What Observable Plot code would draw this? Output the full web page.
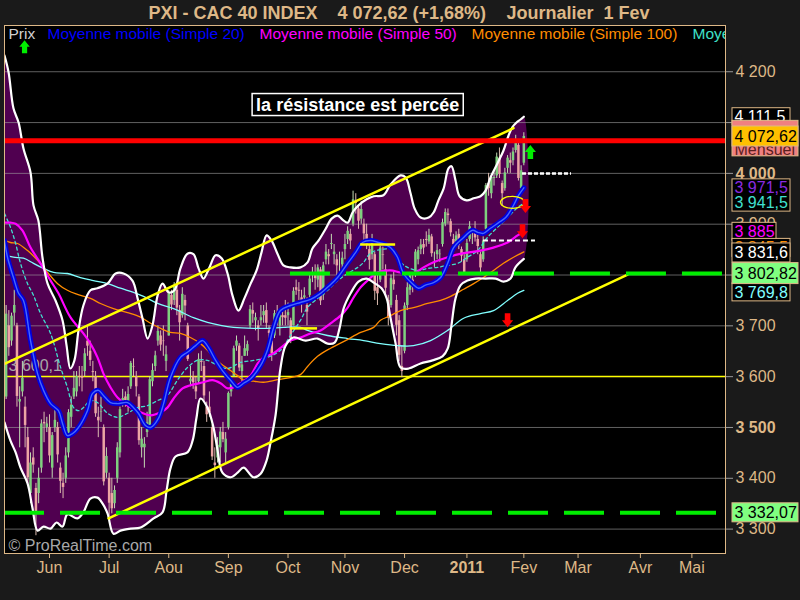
<!DOCTYPE html>
<html><head><meta charset="utf-8">
<script src="https://cdn.jsdelivr.net/npm/d3@7"></script>
<script src="https://cdn.jsdelivr.net/npm/@observablehq/plot@0.6"></script>
<style>
html,body{margin:0;padding:0;background:#1a1a1a;}
#chart svg{display:block;}
g[aria-label="y-axis tick"]{stroke:#9a9a9a;}
</style></head><body><div id="chart"></div>
<script>
// ---------- DATA (trading-day index: 0 = 1 Jun 2010, 175 = 1 Feb 2011) ----------
const firstDay = -16;
const opens = [3560,3700,3670,3725,3700,3550,3570,3540,3480,3370,3440,3380,3370,3420,3510,3500,
3500,3420,3500,3500,3420,3390,3400,3450,3520,3560,3570,3600,3600,3610,3670,3650,3610,3600,3520,3530,3500,3410,
3400,3370,3350,3400,3450,3550,3560,3550,3580,3620,3600,3560,3460,3460,3490,3500,3590,3620,3670,3680,3670,3630,
3680,3760,3750,3770,3730,3720,3750,3700,3590,3600,3580,3590,3630,3620,3540,3540,3500,3430,3440,3460,3490,3450,
3500,3570,3600,3660,3660,3610,3640,3650,3700,3730,3710,3700,3710,3720,3730,3690,3670,3680,3725,3700,3720,3720,
3720,3710,3700,3775,3770,3755,3755,3740,3760,3800,3800,3790,3810,3760,3830,3840,3860,3840,3830,3820,3820,
3850,3870,3880,3900,3945,3930,3910,3900,3880,3850,3840,3840,3775,3790,3840,3810,3750,3740,3790,3750,3710,3620,
3650,3740,3770,3790,3800,3830,3850,3860,3870,3865,3875,3830,3840,3840,3860,3900,3920,3905,3870,3865,3880,3850,3830,
3830,3870,3880,3890,3870,3840,3830,3890,3980,3960,3990,3995,4030,3980,3970,4010,4025,4025,4045,4055,3970,
4020];
const highs = [3740,3730,3725,3770,3705,3580,3630,3560,3500,3450,3460,3390,3420,3515,3530,3520,
3525,3490,3540,3510,3430,3410,3460,3535,3560,3610,3610,3620,3620,3655,3700,3670,3630,3610,3540,3560,3505,3460,
3410,3400,3385,3470,3540,3575,3570,3580,3630,3635,3610,3565,3500,3480,3530,3600,3625,3650,3700,3690,3700,3660,
3770,3770,3785,3780,3740,3775,3760,3705,3620,3610,3600,3645,3650,3630,3550,3570,3505,3460,3480,3500,3510,3490,
3570,3595,3660,3680,3665,3640,3680,3670,3740,3745,3725,3710,3740,3740,3745,3700,3680,3730,3740,3730,3735,3750,
3745,3715,3775,3790,3785,3770,3775,3755,3800,3815,3820,3820,3815,3825,3860,3850,3880,3860,3840,3845,3845,
3880,3895,3890,3965,3960,3935,3945,3910,3900,3860,3880,3845,3800,3860,3855,3820,3760,3800,3805,3760,3720,3660,
3745,3785,3805,3800,3850,3855,3870,3870,3885,3890,3880,3845,3860,3850,3910,3930,3930,3910,3880,3885,3890,3855,3840,
3870,3905,3890,3905,3880,3845,3875,3980,4000,3995,4005,4040,4050,3985,4010,4035,4040,4050,4075,4065,4015,
4080];
const lows = [3555,3640,3660,3700,3540,3460,3560,3460,3390,3350,3410,3287,3350,3410,3470,3490,
3430,3400,3490,3430,3370,3360,3390,3440,3500,3555,3560,3580,3570,3600,3640,3620,3590,3520,3480,3510,3385,3400,
3325,3330,3340,3390,3440,3540,3540,3530,3575,3600,3560,3465,3440,3420,3480,3495,3580,3610,3660,3650,3640,3610,
3680,3730,3740,3720,3670,3715,3710,3630,3580,3575,3555,3585,3610,3550,3510,3520,3435,3400,3430,3430,3470,3430,
3495,3560,3600,3650,3610,3590,3640,3640,3695,3705,3690,3670,3700,3705,3695,3670,3630,3675,3700,3680,3700,3700,
3700,3665,3700,3760,3750,3725,3745,3700,3755,3785,3770,3775,3740,3750,3820,3820,3850,3820,3795,3805,3810,
3830,3860,3850,3895,3920,3890,3900,3860,3850,3810,3830,3750,3740,3785,3810,3760,3700,3735,3770,3680,3630,3598,
3645,3730,3760,3765,3795,3820,3840,3840,3855,3860,3835,3815,3830,3825,3855,3895,3900,3875,3850,3855,3850,3825,3800,
3825,3865,3860,3865,3840,3800,3825,3885,3955,3950,3975,3990,3990,3935,3965,4000,4000,4015,4040,3985,3960,
4015];
const closes = [3723,3657,3719,3740,3561,3555,3597,3504,3401,3430,3426,3331,3400,3507,3507,3507,
3444,3484,3514,3446,3394,3382,3444,3529,3544,3577,3600,3599,3597,3645,3660,3632,3608,3527,3513,3531,3393,3443,
3351,3340,3376,3460,3535,3557,3553,3565,3626,3619,3580,3474,3477,3467,3509,3594,3612,3641,3689,3662,3669,3643,
3764,3741,3778,3735,3706,3762,3739,3634,3595,3588,3570,3634,3628,3562,3525,3529,3442,3425,3465,3491,3476,3477,
3567,3590,3655,3670,3617,3623,3655,3663,3732,3723,3716,3694,3716,3728,3705,3685,3645,3724,3714,3722,3716,3715,
3726,3675,3768,3770,3768,3742,3759,3727,3792,3802,3793,3814,3749,3818,3845,3836,3862,3845,3818,3820,3833,
3860,3886,3867,3948,3941,3906,3929,3881,3861,3829,3864,3768,3763,3853,3839,3774,3715,3793,3781,3701,3642,3610,
3739,3775,3800,3776,3845,3848,3859,3853,3868,3878,3842,3830,3848,3841,3903,3923,3917,3883,3860,3877,3858,3837,3805,
3862,3895,3880,3873,3856,3814,3867,3976,3970,3992,3992,4032,3998,3960,4001,4030,4020,4042,4059,3990,4005,
4072.62];

// Bollinger bands [day, value]
const bbUpper = [[-16.6,4232],[-15.1,4199],[-13.3,4128],[-11.4,4100],[-9.6,4049],[-7.0,4002],[-5.9,3937],[-4.1,3907],[-2.6,3835],[-0.7,3783],
[2.2,3750],[4.8,3711],[6.3,3661],[7.7,3616],[9.2,3632],[10.7,3691],[12.5,3740],[15.1,3770],[17.7,3774],[21.4,3783],
[24.4,3803],[27.3,3803],[30.6,3789],[32.5,3754],[34.3,3715],[36.2,3675],[38.0,3701],[39.9,3760],[41.7,3783],[43.9,3766],
[46.1,3770],[48.3,3813],[50.9,3842],[53.1,3841],[55.0,3813],[56.8,3793],[59.0,3815],[61.3,3839],[63.5,3833],[65.7,3803],
[67.5,3760],[69.7,3730],[71.9,3754],[74.2,3783],[76.4,3809],[78.2,3844],[80.1,3878],[81.9,3868],[84.1,3842],[86.3,3819],
[88.9,3815],[92.6,3815],[95.2,3825],[97.0,3852],[99.3,3868],[101.8,3890],[104.1,3911],[106.3,3917],[108.1,3909],[110.0,3903],
[111.8,3923],[114.0,3937],[117.0,3949],[119.6,3955],[123.2,3957],[125.8,3978],[129.5,3996],[131.4,3992],[133.2,3961],[134.7,3931],
[136.9,3913],[139.9,3913],[141.7,3923],[143.5,3947],[145.4,3970],[147.2,4010],[148.3,4014],[149.8,3986],[151.3,3955],[153.9,3947],
[156.5,3951],[159.0,3955],[160.9,3966],[162.7,3992],[165.3,4020],[167.5,4045],[169.4,4075],[170.8,4091],[172.3,4100],[173.8,4106],[175,4111.5]];
const bbLower = [[-16.6,3510],[-14.4,3474],[-12.5,3451],[-10.7,3421],[-8.1,3390],[-6.3,3342],[-4.4,3297],[-2.2,3305],[0.4,3301],[2.6,3313],
[4.8,3305],[6.6,3329],[10.3,3321],[12.5,3333],[15.1,3360],[17.7,3362],[19.6,3350],[21.4,3331],[23.6,3291],[26.2,3297],
[29.9,3301],[33.6,3303],[38.4,3321],[41.7,3333],[43.2,3376],[44.6,3419],[46.5,3443],[50.9,3451],[52.8,3474],[54.2,3518],
[55.7,3557],[58.3,3539],[60.5,3500],[62.0,3455],[63.8,3411],[66.8,3402],[69.4,3411],[71.6,3421],[75.3,3402],[77.9,3409],
[80.1,3435],[81.5,3469],[83.4,3524],[85.2,3616],[87.1,3661],[90.0,3677],[94.5,3671],[98.9,3675],[102.6,3665],[105.2,3667],
[107.0,3695],[108.5,3734],[111.1,3764],[114.0,3787],[117.0,3793],[119.6,3785],[122.5,3774],[124.4,3754],[125.8,3716],[127.7,3665],
[129.5,3618],[132.5,3616],[136.9,3626],[141.3,3632],[145.0,3640],[146.9,3655],[148.3,3701],[149.8,3754],[151.7,3780],[154.2,3789],
[157.2,3793],[160.9,3793],[164.6,3793],[167.5,3787],[170.1,3793],[171.9,3815],[175,3831.6]];

// Moving averages [day, value]
const ma20 = [[-16.6,3868],[-15.5,3835],[-13.3,3795],[-11.4,3764],[-9.6,3750],[-7.0,3671],[-4.4,3606],[-2.2,3573],[0.4,3547],[3.3,3533],
[4.8,3508],[6.6,3484],[8.5,3488],[10.7,3500],[14.0,3533],[15.9,3567],[18.1,3573],[19.9,3563],[22.5,3549],[25.1,3547],
[28.8,3549],[31.0,3539],[32.8,3528],[35.4,3504],[37.3,3500],[40.2,3518],[42.1,3547],[44.6,3598],[48.3,3638],[50.9,3648],
[53.9,3661],[56.5,3671],[58.7,3657],[61.3,3632],[63.8,3612],[66.8,3593],[69.4,3579],[71.6,3587],[74.2,3596],[77.9,3622],
[80.4,3652],[82.7,3697],[85.2,3730],[88.9,3740],[92.6,3746],[96.3,3752],[100.0,3764],[102.6,3776],[106.3,3795],[110.0,3823],
[112.9,3844],[115.5,3864],[118.4,3868],[121.4,3864],[124.0,3860],[125.8,3854],[128.4,3835],[130.6,3803],[133.9,3783],[136.2,3774],
[138.7,3780],[141.7,3785],[144.3,3795],[146.9,3823],[149.1,3854],[152.4,3872],[156.1,3888],[158.0,3884],[160.1,3882],[162.7,3892],
[165.7,3903],[168.3,3913],[170.8,3933],[173.1,3957],[175,3971.5]];
const ma50 = [[-16.6,3903],[-14.4,3903],[-12.5,3901],[-10.0,3888],[-7.0,3854],[-3.3,3823],[0.4,3789],[3.3,3764],[7.7,3717],[12.5,3685],
[15.1,3665],[17.7,3638],[19.9,3606],[22.5,3579],[25.1,3559],[28.8,3543],[33.6,3530],[37.3,3524],[41.0,3530],[43.5,3539],
[45.8,3557],[49.1,3577],[52.0,3583],[56.8,3589],[60.1,3593],[63.1,3587],[65.7,3577],[67.9,3579],[70.5,3587],[74.2,3602],
[76.8,3626],[79.0,3638],[82.7,3646],[86.3,3661],[88.9,3671],[92.6,3677],[96.3,3685],[100.0,3691],[103.7,3705],[107.4,3720],
[110.0,3736],[112.2,3756],[114.8,3776],[117.3,3789],[121.0,3805],[125.8,3809],[129.5,3805],[134.3,3803],[138.0,3815],[141.7,3825],
[146.9,3835],[152.8,3843],[159.0,3848],[163.8,3854],[169.0,3864],[172.7,3878],[175,3885]];
const ma100 = [[-16.6,3868],[-14.4,3864],[-11.8,3862],[-8.1,3848],[-4.4,3829],[-0.7,3805],[3.0,3783],[6.6,3770],[10.3,3762],[15.1,3754],
[18.8,3744],[23.6,3734],[28.8,3726],[33.6,3717],[37.3,3705],[41.0,3695],[44.6,3687],[48.3,3685],[52.0,3677],[55.7,3665],
[58.3,3652],[60.5,3638],[63.1,3626],[66.8,3612],[69.4,3602],[71.6,3593],[75.3,3591],[79.0,3589],[84.1,3594],[88.9,3598],
[92.6,3604],[95.2,3620],[98.9,3640],[103.7,3656],[109.2,3671],[114.8,3687],[119.6,3697],[122.1,3711],[125.8,3720],[129.5,3730],
[134.3,3736],[139.5,3744],[144.3,3750],[148.0,3758],[152.8,3772],[156.5,3783],[160.1,3795],[163.8,3809],[167.5,3823],[171.2,3835],[175,3845.5]];
const ma200 = [[-16.6,3839],[-13.3,3835],[-9.6,3833],[-5.9,3823],[-2.2,3813],[1.5,3805],[6.6,3803],[11.4,3795],[16.2,3789],[21.4,3783],
[26.2,3774],[31.0,3766],[34.7,3758],[39.9,3744],[45.8,3734],[53.1,3716],[58.3,3707],[63.1,3701],[67.9,3697],[75.3,3695],
[80.4,3695],[86.3,3697],[92.6,3697],[95.2,3691],[102.6,3681],[110.0,3675],[115.9,3671],[122.1,3665],[128.4,3661],[134.3,3661],
[140.6,3671],[146.9,3691],[152.8,3715],[159.0,3724],[163.8,3730],[169.0,3750],[172.7,3764],[175,3769.8]];
const maDashed = [[-16.6,3921],[-14.4,3894],[-12.5,3862],[-10.7,3823],[-8.1,3783],[-5.9,3760],[-3.3,3724],[0.4,3685],[4.1,3618],[6.6,3579],
[8.9,3539],[10.7,3533],[12.5,3539],[15.1,3553],[17.7,3549],[21.4,3528],[25.1,3520],[28.8,3528],[32.5,3539],[36.2,3543],
[39.9,3553],[43.5,3563],[47.2,3593],[50.9,3618],[54.6,3632],[58.3,3632],[62.0,3622],[65.7,3616],[70.5,3628],[75.3,3632],
[80.4,3638],[85.2,3652],[88.9,3681],[92.6,3711],[95.2,3736],[98.9,3754],[102.6,3770],[106.3,3789],[110.0,3803],[113.7,3815],
[115.9,3825],[118.4,3843],[122.1,3850],[125.8,3850],[129.5,3825],[132.1,3815],[135.8,3809],[139.5,3813],[143.1,3815],[146.9,3819],
[150.6,3823],[154.2,3835],[157.9,3848],[161.6,3874],[165.3,3894],[169.0,3913],[172.7,3933],[175,3941.5]];

// Drawn objects
const upperChannel = [[-16.6,3625],[171.2,4089]];
const lowerChannel = [[21.8,3321],[213.3,3801]];
const resistanceLevel = 4064;
const level3600 = 3600.1;
const greenLevels = [3802.82, 3332.07];
const greenStarts = [88.9, -16.6];
const whiteLevels = [4000, 3868];
const whiteStarts = [174.5, 160.1];
const whiteEnds = [192.6, 179.3];
const yellowLevels = [3695, 3860];
const yellowStarts = [88.9, 114.8];
const yellowEnds = [98.9, 127.7];
const downArrows = [[175.6,3936],[174.5,3886],[169,3711]];
const upArrows = [[177.4,4042]];
const legendArrow = [[-9.2,4249]];
const ellipseAt = [[170.8,3943]];
const annotation = {day: 113.7, v: 4135, text: "la résistance est percée"};
const label3600 = {day: -15.1, v: 3621, text: "3 600,1"};

// Axes
const monthTicks = [0,22,44,66,88,109,131,154,175,195,218,237];
const monthLabels = ["Jun","Jul","Aou","Sep","Oct","Nov","Dec","2011","Fev","Mar","Avr","Mai"];
const priceTicks = [4200,4100,4000,3900,3800,3700,3600,3500,3400,3300];
const boldPriceTicks = [4000,3500];
const boldMonth = 154;

// Texts
const titleParts = ["PXI - CAC 40 INDEX", "4 072,62 (+1,68%)", "Journalier\u00a0 1 Fev"];
const legendItems = ["Prix","Moyenne mobile (Simple 20)","Moyenne mobile (Simple 50)","Moyenne mobile (Simple 100)","Moyenne mobile (Simple 200)"];
const sideLabelValues = [4111.5, 4072.62, 3971.5, 3941.5, 3885, 3845.5, 3831.6, 3802.82, 3769.8, 3332.07];
const sideLabelTexts = ["4 111,5","4 072,62","3 971,5","3 941,5","3 885","3 845,5","3 831,6","3 802,82","3 769,8","3 332,07"];
const mensuelText = "Mensuel";
const copyright = "© ProRealTime.com";

// ---------- STYLE ----------
const FONT = '"Liberation Sans", Arial, Helvetica, sans-serif';
const TAN = "#deb887";
const X0 = -16.6, X1 = 249.4;
const PXPERDAY = 721 / (X1 - X0);
const legendX = [4, 43, 255, 467, 688];
const legendColors = ["#d0d0d0","#0000ff","#ff00ff","#ff8c00","#3fe0c8"];
const titleX = [144, 333, 502];

const pts = a => a.map(([day, v]) => ({day, v}));
const candles = closes.map((c, i) => ({day: firstDay + i, o: opens[i], h: highs[i], l: lows[i], c}));
const up = candles.filter(d => d.c >= d.o), down = candles.filter(d => d.c < d.o);
const bandPoly = [...pts(bbUpper), ...pts(bbLower).reverse()];
const fmtPrice = d => d3.format(",")(d).replace(",", " ");

const arrowDownSym = {draw(ctx, size) { const r = Math.sqrt(size / Math.PI), sw = r * 0.4, hw = r * 0.8;
  ctx.moveTo(-sw, -r); ctx.lineTo(sw, -r); ctx.lineTo(sw, 0); ctx.lineTo(hw, 0); ctx.lineTo(0, r); ctx.lineTo(-hw, 0); ctx.lineTo(-sw, 0); ctx.closePath(); }};
const arrowUpSym = {draw(ctx, size) { const r = Math.sqrt(size / Math.PI), sw = r * 0.4, hw = r * 0.8;
  ctx.moveTo(-sw, r); ctx.lineTo(sw, r); ctx.lineTo(sw, 0); ctx.lineTo(hw, 0); ctx.lineTo(0, -r); ctx.lineTo(-hw, 0); ctx.lineTo(-sw, 0); ctx.closePath(); }};
const ellipseSym = {draw(ctx, size) { const rx = Math.sqrt(size / Math.PI), ry = rx * 0.5, k = 0.5523;
  ctx.moveTo(rx, 0); ctx.bezierCurveTo(rx, ry * k, rx * k, ry, 0, ry); ctx.bezierCurveTo(-rx * k, ry, -rx, ry * k, -rx, 0);
  ctx.bezierCurveTo(-rx, -ry * k, -rx * k, -ry, 0, -ry); ctx.bezierCurveTo(rx * k, -ry, rx, -ry * k, rx, 0); ctx.closePath(); }};

const curve = "catmull-rom";
const plot = Plot.plot({
  width: 800, height: 600,
  marginTop: 25, marginRight: 75, marginBottom: 47, marginLeft: 4,
  style: {background: "transparent", color: TAN, fontFamily: FONT},
  x: {domain: [X0, X1], axis: null, label: null},
  y: {domain: [3252, 4291], axis: null, label: null},
  marks: [
    Plot.frame({fill: "black"}),
    Plot.line(bandPoly, {x: "day", y: "v", fill: "#500050", stroke: "none", curve, clip: true}),
    Plot.ruleY(priceTicks, {stroke: "#a0a0a0", strokeOpacity: 0.6}),
    Plot.ruleY([level3600], {stroke: "#ffff00", strokeWidth: 1.5}),
    Plot.text([label3600], {x: "day", y: "v", text: "text", textAnchor: "start", fill: "#a8a8a8", fontSize: 16}),
    Plot.ruleX(up, {x: "day", y1: "l", y2: "h", stroke: "#c4dcb4", strokeWidth: 1}),
    Plot.ruleX(down, {x: "day", y1: "l", y2: "h", stroke: "#dcbcb0", strokeWidth: 1}),
    Plot.ruleX(up, {x: "day", y1: "o", y2: "c", stroke: "#7fd07f", strokeWidth: 2.5}),
    Plot.ruleX(down, {x: "day", y1: "o", y2: "c", stroke: "#eca4a4", strokeWidth: 2.5}),
    Plot.line(pts(ma200), {x: "day", y: "v", stroke: "#80ffff", strokeWidth: 1.3, curve, clip: true}),
    Plot.line(pts(ma100), {x: "day", y: "v", stroke: "#ff8c00", strokeWidth: 1.3, curve, clip: true}),
    Plot.line(pts(maDashed), {x: "day", y: "v", stroke: "#40e0d0", strokeWidth: 1.3, strokeDasharray: "3,3", curve, clip: true}),
    Plot.line(pts(ma50), {x: "day", y: "v", stroke: "#ff00ff", strokeWidth: 2.2, curve, clip: true}),
    Plot.line(pts(ma20), {x: "day", y: "v", stroke: "#0000dd", strokeWidth: 5, curve, clip: true}),
    Plot.line(pts(ma20), {x: "day", y: "v", stroke: "#4466ff", strokeWidth: 1.4, curve, clip: true}),
    Plot.line(pts(bbUpper), {x: "day", y: "v", stroke: "white", strokeWidth: 2.2, curve, clip: true}),
    Plot.line(pts(bbLower), {x: "day", y: "v", stroke: "white", strokeWidth: 2.2, curve, clip: true}),
    Plot.line(pts(upperChannel), {x: "day", y: "v", stroke: "#ffff00", strokeWidth: 2.5, clip: true}),
    Plot.line(pts(lowerChannel), {x: "day", y: "v", stroke: "#ffff00", strokeWidth: 2.5, clip: true}),
    Plot.ruleY(greenLevels, {y: d => d, x1: (d, i) => greenStarts[i], x2: () => X1, stroke: "#00ee00", strokeWidth: 4, strokeDasharray: "40,16", clip: true}),
    Plot.ruleY([resistanceLevel], {stroke: "#ff0000", strokeWidth: 5}),
    Plot.ruleY([whiteLevels[0]], {y: d => d, x1: () => whiteStarts[0], x2: () => whiteEnds[0], stroke: "white", strokeWidth: 2.5, strokeDasharray: "4,2"}),
    Plot.ruleY([whiteLevels[1]], {y: d => d, x1: () => whiteStarts[1], x2: () => whiteEnds[1], stroke: "white", strokeWidth: 2, strokeDasharray: "5,3"}),
    Plot.ruleY(yellowLevels, {y: d => d, x1: (d, i) => yellowStarts[i], x2: (d, i) => yellowEnds[i], stroke: "#ffff00", strokeWidth: 2.5}),
    Plot.dot(pts(ellipseAt), {x: "day", y: "v", symbol: ellipseSym, r: 12, fill: "none", stroke: "#ffff00", strokeWidth: 1.2}),
    Plot.dot(pts(downArrows), {x: "day", y: "v", symbol: arrowDownSym, r: 7, fill: "#ff0000", stroke: "none"}),
    Plot.dot(pts(upArrows), {x: "day", y: "v", symbol: arrowUpSym, r: 7, fill: "#00ee00", stroke: "none"}),
    Plot.dot(pts(legendArrow), {x: "day", y: "v", symbol: arrowUpSym, r: 6.5, fill: "#00ee00", stroke: "none"}),
    Plot.text([annotation], {x: "day", y: "v", text: "text", fill: "white", fontWeight: "bold", fontSize: 18}),
    Plot.text(legendItems, {text: d => d, frameAnchor: "top", textAnchor: "start", lineAnchor: "middle", dy: 8.5, fontSize: 15.5, clip: true,
      fill: (d, i) => legendColors[i], x: (d, i) => X0 + legendX[i] / PXPERDAY}),
    Plot.text([copyright], {text: d => d, frameAnchor: "bottom-left", lineAnchor: "middle", dx: 4, dy: -8, textAnchor: "start", fill: "#a8a8a8", fontSize: 16}),
    Plot.text(titleParts, {text: d => d, frameAnchor: "top", lineAnchor: "middle", x: (d, i) => X0 + titleX[i] / PXPERDAY, dy: -12, textAnchor: "start", fontWeight: "bold", fontSize: 18, fill: TAN}),
    Plot.axisX(monthTicks.filter(t => t !== boldMonth), {anchor: "bottom", label: null, tickSize: 5, tickPadding: 3, fontSize: 16, tickFormat: d => monthLabels[monthTicks.indexOf(d)]}),
    Plot.axisX([boldMonth], {anchor: "bottom", label: null, tickSize: 5, tickPadding: 3, fontSize: 16, fontWeight: "bold", tickFormat: d => monthLabels[monthTicks.indexOf(d)]}),
    Plot.axisY(priceTicks.filter(t => !boldPriceTicks.includes(t)), {anchor: "right", label: null, tickSize: 7, tickPadding: 3, fontSize: 16, tickFormat: fmtPrice}),
    Plot.axisY(boldPriceTicks, {anchor: "right", label: null, tickSize: 7, tickPadding: 3, fontSize: 16, fontWeight: "bold", tickFormat: fmtPrice}),
    Plot.frame({stroke: TAN, strokeWidth: 1})
  ]
});
document.getElementById("chart").append(plot);

// ---------- annotation box + price boxes (positioned with Plot's y scale) ----------
const svg = d3.select(plot);
svg.selectAll("text").filter(function() { return this.textContent === annotation.text; }).each(function() {
  const b = this.getBBox();
  const r = d3.select(this.parentNode).insert("rect", "text").attr("x", b.x - 4).attr("y", b.y - 1)
    .attr("width", b.width + 8).attr("height", b.height + 2).attr("fill", "black").attr("stroke", "white").attr("stroke-width", 1.5);
  const tr = this.getAttribute("transform"); if (tr) r.attr("transform", tr);
});
const yS = v => plot.scale("y").apply(v);
const layer = svg.append("g").attr("font-family", FONT).attr("font-size", 16).attr("text-anchor", "start");
const BX = 732;
function box(y0, y1, w, fill) { layer.append("rect").attr("x", BX).attr("y", y0).attr("width", w).attr("height", y1 - y0).attr("fill", fill).attr("stroke", TAN).attr("stroke-width", 1); }
function lab(t, y, color) { layer.append("text").attr("x", BX + 2.5).attr("y", y).attr("dy", "0.36em").attr("fill", color).text(t); }
const L = i => ({v: sideLabelValues[i], t: sideLabelTexts[i]});
let y;
y = yS(L(0).v); box(y - 8.5, y + 8.5, 58, "black"); lab(L(0).t, y, "white");
y = yS(resistanceLevel); box(y - 20, y + 15.5, 66, "#f08080"); lab(mensuelText, y + 8.5, "#5a2020");
y = yS(L(1).v); box(y - 10, y + 10, 66, "#ffc000"); lab(L(1).t, y, "black");
{ const ya = yS(L(2).v), yb = yS(L(3).v); box(ya - 8.5, yb + 8.5, 58, "black"); lab(L(2).t, ya, "#8a2be2"); lab(L(3).t, yb, "#40e0d0"); }
y = yS(L(4).v); box(y - 9, y + 9, 44, "black"); lab(L(4).t, y, "#ff00ff");
y = yS(L(5).v) - 4; box(y - 9, y + 9, 58, "black"); lab(L(5).t, y, "#ff8c00");
y = yS(L(6).v) - 6; box(y - 9.5, y + 9.5, 58, "black"); lab(L(6).t, y, "white");
y = yS(L(8).v) + 2; box(y - 9, y + 9, 58, "black"); lab(L(8).t, y, "#80ffff");
y = yS(L(7).v); box(y - 10.5, y + 10.5, 66, "#80ff80"); lab(L(7).t, y, "black");
y = yS(L(9).v); box(y - 9.5, y + 9.5, 66, "#80ff80"); lab(L(9).t, y, "black");
</script></body></html>
